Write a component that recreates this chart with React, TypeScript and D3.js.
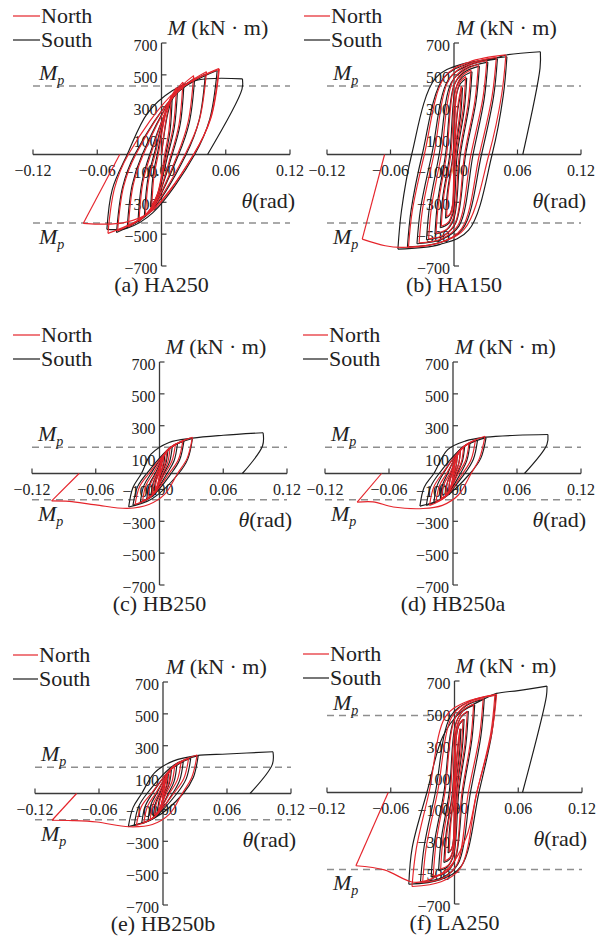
import React from 'react';
import * as d3 from 'd3';

type Pt = [number, number];

// ---------- tick values / labels ----------
const xTicks = [-0.12, -0.06, 0, 0.06, 0.12];
const xTickLabels = ['\u22120.12', '\u22120.06', '0.00', '0.06', '0.12'];
const yTicks = [700, 500, 300, 100, -100, -300, -500, -700];
const yTickLabels = ['700', '500', '300', '100', '\u2212100', '\u2212300', '\u2212500', '\u2212700'];
const legendLabels = ['North', 'South'];
const captions = ['(a) HA250', '(b) HA150', '(c) HB250', '(d) HB250a', '(e) HB250b', '(f) LA250'];
const mpValues = [430, 430, 165, 165, 165, 483];

// ---------- (a) HA250 ----------
const haSouth: Pt[] = [
  [0, 0], [0.005, 230], [0.010, 360],
  [0.008, 151], [0.004, 0], [-0.0034, -248], [-0.010, -330],
  [-0.008, -139], [-0.004, 0], [0.0061, 308], [0.015, 410],
  [0.012, 172], [0.006, 0], [-0.0057, -293], [-0.016, -390],
  [-0.013, -164], [-0.007, 0], [0.0078, 334], [0.021, 445],
  [0.0174, 187], [0.010, 0], [-0.007, -319], [-0.022, -425],
  [-0.0184, -179], [-0.011, 0], [0.0113, 360], [0.031, 480],
  [0.026, 202], [0.016, 0], [-0.0094, -345], [-0.032, -460],
  [-0.0274, -193], [-0.018, 0], [0.0133, 379], [0.041, 505],
  [0.035, 212], [0.023, 0], [-0.0115, -368], [-0.042, -490],
  [-0.0364, -206], [-0.025, 0], [0.0158, 395], [0.052, 527],
  [0.045, 221], [0.031, 0], [-0.008, -365], [-0.032, -462], [-0.051, -470],
  [-0.046, -220], [-0.032, 0], [-0.013, 260], [0.010, 400], [0.034, 468], [0.0756, 475],
  [0.0752, 410], [0.043, 0],
];
const haNorth: Pt[] = [
  [0, 0], [0.0045, 230], [0.009, 370],
  [0.007, 155], [0.003, 0], [-0.0034, -240], [-0.009, -320],
  [-0.007, -134], [-0.003, 0], [0.006, 315], [0.014, 420],
  [0.011, 176], [0.005, 0], [-0.0056, -285], [-0.015, -380],
  [-0.012, -160], [-0.006, 0], [0.0078, 341], [0.020, 455],
  [0.0164, 191], [0.009, 0], [-0.0069, -315], [-0.021, -420],
  [-0.0174, -176], [-0.010, 0], [0.0112, 371], [0.030, 495],
  [0.025, 208], [0.015, 0], [-0.0094, -341], [-0.031, -455],
  [-0.0264, -191], [-0.017, 0], [0.0143, 390], [0.042, 520],
  [0.0354, 218], [0.022, 0], [-0.0114, -360], [-0.041, -480],
  [-0.0354, -202], [-0.024, 0], [0.0171, 405], [0.0535, 540],
  [0.0457, 227], [0.030, 0], [-0.0124, -371], [-0.050, -495],
  [-0.0437, -208], [-0.031, 0], [0.014, 401], [0.054, 535],
  [0.046, 225], [0.030, 0], [-0.008, -350], [-0.035, -428], [-0.073, -432],
  [-0.039, 0],
];

// ---------- (b) HA150 ----------
const hbSouth150: Pt[] = [
  [0, 0], [0.004, 300], [0.008, 420],
  [0.0063, 252], [0.001, 0], [-0.0013, -320], [-0.004, -380], [-0.008, -400],
  [-0.0063, -240], [-0.001, 0], [0.0023, 374], [0.0062, 446], [0.012, 480],
  [0.0098, 288], [0.003, 0], [-0.001, -368], [-0.0058, -437], [-0.013, -460],
  [-0.0108, -276], [-0.004, 0], [0.0013, 406], [0.0076, 484], [0.017, 520],
  [0.0143, 312], [0.006, 0], [0.0, -400], [-0.0072, -475], [-0.018, -500],
  [-0.0155, -300], [-0.008, 0], [0.0, 433], [0.0096, 516], [0.024, 555],
  [0.0208, 333], [0.011, 0], [0.0018, -428], [-0.0094, -508], [-0.026, -535],
  [-0.023, -321], [-0.014, 0], [-0.0025, 452], [0.0113, 539], [0.032, 580],
  [0.0285, 348], [0.018, 0], [0.0048, -448], [-0.0112, -532], [-0.035, -560],
  [-0.0315, -336], [-0.021, 0], [-0.0055, 468], [0.0131, 558], [0.041, 600],
  [0.0373, 360], [0.026, 0], [0.0085, -464], [-0.0125, -551], [-0.044, -580],
  [-0.0405, -348], [-0.030, 0], [-0.010, 479], [0.014, 571], [0.050, 614],
  [0.0465, 368], [0.036, 0], [0.0138, -475], [-0.013, -564], [-0.053, -594],
  [-0.0497, -356], [-0.040, 0], [-0.0175, 479], [0.0095, 571], [0.037, 600], [0.0496, 625], [0.0816, 645],
  [0.0813, 542], [0.065, 0],
];
const hbNorth150: Pt[] = [
  [0, 0], [0.0035, 300], [0.007, 430],
  [0.0054, 258], [0.0005, 0], [-0.0014, -312], [-0.0036, -371], [-0.007, -390],
  [-0.0054, -234], [-0.0005, 0], [0.0024, 382], [0.0058, 456], [0.011, 490],
  [0.0088, 294], [0.002, 0], [-0.0015, -360], [-0.0057, -428], [-0.012, -450],
  [-0.0098, -270], [-0.003, 0], [0.0018, 413], [0.0075, 493], [0.016, 530],
  [0.0133, 318], [0.005, 0], [-0.0005, -396], [-0.0071, -470], [-0.017, -495],
  [-0.0145, -297], [-0.007, 0], [0.0005, 441], [0.0095, 525], [0.023, 565],
  [0.0198, 339], [0.010, 0], [0.0015, -424], [-0.0087, -504], [-0.024, -530],
  [-0.021, -318], [-0.012, 0], [-0.0013, 460], [0.0117, 549], [0.031, 590],
  [0.0273, 354], [0.016, 0], [0.0038, -444], [-0.011, -527], [-0.033, -555],
  [-0.0295, -333], [-0.019, 0], [-0.0043, 476], [0.0135, 567], [0.040, 610],
  [0.036, 366], [0.024, 0], [0.0073, -465], [-0.0129, -552], [-0.043, -581],
  [-0.0393, -349], [-0.028, 0], [-0.0088, 488], [0.0144, 581], [0.049, 625],
  [0.045, 375], [0.033, 0], [0.0095, -470], [-0.02, -565], [-0.05, -583], [-0.065, -573], [-0.0867, -531],
  [-0.0656, 0],
];

// ---------- (c) HB250 ----------
const hcSouth: Pt[] = [
  [0, 0], [0.0025, 75], [0.005, 120],
  [0.0037, 50], [0.001, 0], [-0.0022, -83], [-0.005, -110],
  [-0.0037, -46], [-0.001, 0], [0.0038, 113], [0.008, 150],
  [0.006, 63], [0.002, 0], [-0.0033, -105], [-0.008, -140],
  [-0.006, -59], [-0.002, 0], [0.0054, 128], [0.012, 170],
  [0.0094, 71], [0.004, 0], [-0.0045, -120], [-0.012, -160],
  [-0.0094, -67], [-0.004, 0], [0.0071, 143], [0.017, 190],
  [0.0137, 80], [0.007, 0], [-0.0063, -135], [-0.018, -180],
  [-0.0147, -76], [-0.008, 0], [0.0084, 154], [0.023, 205],
  [0.019, 86], [0.011, 0], [-0.0081, -150], [-0.025, -200],
  [-0.0207, -84], [-0.012, 0], [0.0108, 165], [0.031, 220],
  [0.0267, 92], [0.018, 0], [-0.0069, -158], [-0.029, -210],
  [-0.025, -88], [-0.017, 0], [-0.008, 121], [0.009, 195], [0.031, 222], [0.06, 240], [0.0975, 256],
  [0.097, 174], [0.078, 0],
];
const hcNorth: Pt[] = [
  [0, 0], [0.002, 70], [0.004, 110],
  [0.0028, 46], [0.0005, 0], [-0.0019, -75], [-0.004, -100],
  [-0.0028, -42], [-0.0005, 0], [0.0035, 105], [0.007, 140],
  [0.005, 59], [0.001, 0], [-0.0032, -98], [-0.007, -130],
  [-0.0052, -55], [-0.0015, 0], [0.0046, 124], [0.010, 165],
  [0.0077, 69], [0.003, 0], [-0.0044, -116], [-0.011, -155],
  [-0.0084, -65], [-0.003, 0], [0.0065, 139], [0.015, 185],
  [0.0117, 78], [0.005, 0], [-0.0061, -131], [-0.016, -175],
  [-0.0127, -74], [-0.006, 0], [0.0088, 154], [0.022, 205],
  [0.0177, 86], [0.009, 0], [-0.008, -146], [-0.023, -195],
  [-0.0187, -82], [-0.010, 0], [0.0117, 170], [0.031, 227],
  [0.026, 95], [0.017, 0], [0.005, -130], [-0.010, -195], [-0.030, -219], [-0.060, -197], [-0.085, -175], [-0.1015, -172],
  [-0.0757, 0],
];

// ---------- (d) HB250a ----------
const hdSouth: Pt[] = [
  [0, 0], [0.002, 75], [0.004, 120],
  [0.003, 50], [0.001, 0], [-0.0017, -83], [-0.004, -110],
  [-0.003, -46], [-0.001, 0], [0.0032, 113], [0.007, 150],
  [0.0054, 63], [0.002, 0], [-0.0028, -105], [-0.007, -140],
  [-0.0054, -59], [-0.002, 0], [0.0049, 131], [0.011, 175],
  [0.0087, 74], [0.004, 0], [-0.0045, -124], [-0.012, -165],
  [-0.0097, -69], [-0.005, 0], [0.0061, 146], [0.016, 195],
  [0.013, 82], [0.007, 0], [-0.0063, -139], [-0.018, -185],
  [-0.015, -78], [-0.009, 0], [0.008, 158], [0.023, 210],
  [0.019, 88], [0.011, 0], [-0.0081, -150], [-0.025, -200],
  [-0.021, -84], [-0.013, 0], [0.0103, 169], [0.031, 225],
  [0.026, 95], [0.016, 0], [-0.0089, -154], [-0.031, -205],
  [-0.027, -86], [-0.018, 0], [-0.005, 150], [0.012, 205], [0.031, 228], [0.06, 240], [0.089, 245],
  [0.088, 181], [0.067, 0],
];
const hdNorth: Pt[] = [
  [0, 0], [0.002, 70], [0.004, 110],
  [0.0028, 46], [0.0005, 0], [-0.0019, -75], [-0.004, -100],
  [-0.0028, -42], [-0.0005, 0], [0.0035, 105], [0.007, 140],
  [0.0052, 59], [0.0015, 0], [-0.003, -101], [-0.007, -135],
  [-0.0052, -57], [-0.0015, 0], [0.0046, 124], [0.010, 165],
  [0.0077, 69], [0.003, 0], [-0.0044, -120], [-0.011, -160],
  [-0.0084, -67], [-0.003, 0], [0.0065, 143], [0.015, 190],
  [0.0117, 80], [0.005, 0], [-0.0061, -135], [-0.016, -180],
  [-0.0127, -76], [-0.006, 0], [0.0083, 158], [0.021, 210],
  [0.017, 88], [0.009, 0], [-0.0074, -150], [-0.022, -200],
  [-0.018, -84], [-0.010, 0], [0.0112, 176], [0.030, 234],
  [0.025, 98], [0.017, 0], [0.005, -135], [-0.010, -200], [-0.028, -220], [-0.056, -210], [-0.075, -178], [-0.0898, -180],
  [-0.067, 0],
];

// ---------- (e) HB250b ----------
const heSouth: Pt[] = [
  [0, 0], [0.0025, 80], [0.005, 125],
  [0.0037, 52], [0.001, 0], [-0.0022, -83], [-0.005, -110],
  [-0.0037, -46], [-0.001, 0], [0.0038, 116], [0.008, 155],
  [0.006, 65], [0.002, 0], [-0.0038, -109], [-0.009, -145],
  [-0.007, -61], [-0.003, 0], [0.0055, 135], [0.013, 180],
  [0.0104, 76], [0.005, 0], [-0.0051, -128], [-0.014, -170],
  [-0.0114, -71], [-0.006, 0], [0.0073, 150], [0.019, 200],
  [0.0157, 84], [0.009, 0], [-0.0064, -143], [-0.020, -190],
  [-0.0167, -80], [-0.010, 0], [0.0091, 165], [0.026, 220],
  [0.0217, 92], [0.013, 0], [-0.0082, -150], [-0.027, -200],
  [-0.023, -84], [-0.015, 0], [0.0104, 179], [0.033, 238],
  [0.0284, 100], [0.019, 0], [-0.0083, -156], [-0.0325, -208],
  [-0.028, -87], [-0.020, 0], [-0.008, 130], [0.010, 205], [0.0316, 238], [0.06, 248], [0.1031, 262],
  [0.1025, 183], [0.0816, 0],
];
const heNorth: Pt[] = [
  [0, 0], [0.002, 75], [0.004, 115],
  [0.0028, 48], [0.0005, 0], [-0.0019, -79], [-0.004, -105],
  [-0.0028, -44], [-0.0005, 0], [0.0035, 109], [0.007, 145],
  [0.0052, 61], [0.0015, 0], [-0.0035, -101], [-0.008, -135],
  [-0.006, -57], [-0.002, 0], [0.0049, 131], [0.011, 175],
  [0.0084, 74], [0.003, 0], [-0.005, -124], [-0.012, -165],
  [-0.0094, -69], [-0.004, 0], [0.0071, 150], [0.017, 200],
  [0.0134, 84], [0.006, 0], [-0.0067, -139], [-0.018, -185],
  [-0.0144, -78], [-0.007, 0], [0.0094, 165], [0.024, 220],
  [0.0194, 92], [0.010, 0], [-0.0086, -150], [-0.025, -200],
  [-0.0204, -84], [-0.011, 0], [0.0118, 182], [0.032, 242],
  [0.027, 102], [0.018, 0], [0.006, -130], [-0.010, -195], [-0.032, -209], [-0.062, -179], [-0.085, -170], [-0.104, -168],
  [-0.081, 0],
];

// ---------- (f) LA250 ----------
const hfSouth: Pt[] = [
  [0, 0], [0.003, 270], [0.006, 400],
  [0.0046, 240], [0.0005, 0], [-0.0011, -304], [-0.0031, -361], [-0.006, -380],
  [-0.0046, -228], [-0.0005, 0], [0.0019, 359], [0.0047, 428], [0.009, 460],
  [0.0073, 276], [0.002, 0], [-0.001, -352], [-0.0046, -418], [-0.010, -440],
  [-0.008, -264], [-0.002, 0], [0.0018, 398], [0.0063, 474], [0.013, 510],
  [0.0108, 306], [0.004, 0], [-0.0008, -392], [-0.0065, -466], [-0.015, -490],
  [-0.0125, -294], [-0.005, 0], [0.001, 429], [0.0082, 512], [0.019, 550],
  [0.0163, 330], [0.008, 0], [0.0005, -424], [-0.0085, -504], [-0.022, -530],
  [-0.019, -318], [-0.010, 0], [-0.0005, 457], [0.0109, 545], [0.028, 586],
  [0.0248, 352], [0.015, 0], [0.0033, -448], [-0.0109, -532], [-0.032, -560],
  [-0.0285, -336], [-0.018, 0], [-0.0038, 477], [0.0134, 569], [0.039, 612],
  [0.035, 367], [0.023, 0], [0.0065, -461], [-0.0133, -547], [-0.043, -576],
  [-0.0398, -346], [-0.026, 0], [-0.011, 352], [0.005, 500], [0.027, 584], [0.0396, 622], [0.06, 640], [0.087, 668],
  [0.0865, 605], [0.064, 0],
];
const hfNorth: Pt[] = [
  [0, 0], [0.0025, 260], [0.005, 400],
  [0.0038, 240], [0.0003, 0], [-0.001, -296], [-0.0026, -352], [-0.005, -370],
  [-0.0038, -222], [-0.0003, 0], [0.0018, 359], [0.0043, 428], [0.008, 460],
  [0.0064, 276], [0.0015, 0], [-0.0011, -344], [-0.0043, -409], [-0.009, -430],
  [-0.0071, -258], [-0.0015, 0], [0.0019, 398], [0.0059, 474], [0.012, 510],
  [0.0098, 306], [0.003, 0], [-0.001, -384], [-0.0058, -456], [-0.013, -480],
  [-0.0108, -288], [-0.004, 0], [0.0015, 433], [0.0081, 516], [0.018, 555],
  [0.0153, 333], [0.007, 0], [0.0003, -420], [-0.0079, -499], [-0.020, -525],
  [-0.0173, -315], [-0.009, 0], [0.0, 460], [0.0108, 549], [0.027, 590],
  [0.0235, 354], [0.013, 0], [0.0023, -452], [-0.0107, -537], [-0.030, -565],
  [-0.0265, -339], [-0.016, 0], [-0.0021, 480], [0.0146, 573], [0.0396, 616],
  [0.035, 370], [0.021, 0], [0.0058, -472], [-0.0126, -560], [-0.040, -590],
  [-0.036, -354], [-0.024, 0], [-0.0085, 476], [0.0101, 567], [0.038, 610],
  [0.034, 366], [0.021, 0], [0.011, -283], [-0.005, -471], [-0.027, -555], [-0.040, -562], [-0.066, -486], [-0.0928, -460],
  [-0.0624, 0],
];

const northSeries = [haNorth, hbNorth150, hcNorth, hdNorth, heNorth, hfNorth];
const southSeries = [haSouth, hbSouth150, hcSouth, hdSouth, heSouth, hfSouth];

// ---------- layout (pixels) ----------
const layout = [
  { x0: 33, x1: 290, yT: 43, yB: 266, lx0: 13, lx1: 40, tdx: 6 },
  { x0: 327, x1: 581, yT: 43, yB: 266, lx0: 304, lx1: 330, tdx: 2 },
  { x0: 32, x1: 287, yT: 362, yB: 585, lx0: 13, lx1: 40, tdx: 6 },
  { x0: 325, x1: 581, yT: 362, yB: 585, lx0: 303, lx1: 328, tdx: 2 },
  { x0: 35, x1: 291, yT: 682, yB: 905, lx0: 13, lx1: 38, tdx: 3 },
  { x0: 327, x1: 582, yT: 681, yB: 904, lx0: 303, lx1: 329, tdx: 1 },
];

const RED = '#e5242b';
const BLACK = '#1c1c1c';
const AXIS = '#3a3a3a';
const FONT = '"Liberation Serif", "Times New Roman", "DejaVu Serif", serif';

function splitBranches(pts: Pt[]): Pt[][] {
  const out: Pt[][] = [];
  let cur: Pt[] = [pts[0]];
  let dir = 0;
  for (let i = 1; i < pts.length; i++) {
    const d = Math.sign(pts[i][0] - pts[i - 1][0]);
    if (dir !== 0 && d !== 0 && d !== dir) {
      out.push(cur);
      cur = [pts[i - 1]];
    }
    if (d !== 0) dir = d;
    cur.push(pts[i]);
  }
  out.push(cur);
  return out;
}

function Panel({ idx }: { idx: number }) {
  const L = layout[idx];
  const x = d3.scaleLinear().domain([-0.12, 0.12]).range([L.x0, L.x1]);
  const y = d3.scaleLinear().domain([-700, 700]).range([L.yB, L.yT]);
  const line = d3
    .line<Pt>()
    .x((d) => x(d[0]))
    .y((d) => y(d[1]))
    .curve(d3.curveCatmullRom.alpha(0.5));
  const x0 = x(0);
  const y0 = y(0);
  const mp = mpValues[idx];
  const drawSeries = (s: Pt[], color: string, key: string) =>
    splitBranches(s).map((b, i) => (
      <path key={key + i} d={line(b) || ''} fill="none" stroke={color} strokeWidth={1.15} strokeLinejoin="round" />
    ));
  return (
    <g>
      {/* Mp dashed lines */}
      {[mp, -mp].map((v, i) => (
        <line key={'mp' + i} x1={L.x0} x2={L.x1} y1={y(v)} y2={y(v)} stroke="#8e8e8e" strokeWidth={1.5} strokeDasharray="7,5" />
      ))}
      {/* x axis */}
      <line x1={L.x0} x2={L.x1} y1={y0} y2={y0} stroke={AXIS} strokeWidth={1.3} />
      {xTicks.map((t, i) => (
        <g key={'xt' + i}>
          <line x1={x(t)} x2={x(t)} y1={y0} y2={y0 - 5} stroke={AXIS} strokeWidth={1.2} />
          <text x={x(t)} y={y0 + 21} textAnchor="middle" fontSize={16} fontFamily={FONT} fill="#222">
            {xTickLabels[i]}
          </text>
        </g>
      ))}
      {/* y axis */}
      <line x1={x0} x2={x0} y1={L.yT} y2={L.yB} stroke={AXIS} strokeWidth={1.3} />
      {yTicks.map((t, i) => (
        <g key={'yt' + i}>
          <line x1={x0} x2={x0 + 5} y1={y(t)} y2={y(t)} stroke={AXIS} strokeWidth={1.2} />
          <text x={x0 - 4} y={y(t) + 8} textAnchor="end" fontSize={16} fontFamily={FONT} fill="#222">
            {yTickLabels[i]}
          </text>
        </g>
      ))}
      {/* curves */}
      {drawSeries(southSeries[idx], BLACK, 's')}
      {drawSeries(northSeries[idx], RED, 'n')}
      {/* Mp labels */}
      <text x={L.x0 + 6} y={y(mp) - 6} fontSize={22} fontFamily={FONT} fill="#222">
        <tspan fontStyle="italic">M</tspan>
        <tspan fontStyle="italic" fontSize={14} dy={5}>p</tspan>
      </text>
      <text x={L.x0 + 6} y={y(-mp) + 21} fontSize={22} fontFamily={FONT} fill="#222">
        <tspan fontStyle="italic">M</tspan>
        <tspan fontStyle="italic" fontSize={14} dy={5}>p</tspan>
      </text>
      {/* axis titles */}
      <text x={x0 + L.tdx} y={L.yT - 8} fontSize={22} fontFamily={FONT} fill="#222">
        <tspan fontStyle="italic">M</tspan>
        <tspan> (kN · m)</tspan>
      </text>
      <text x={L.x1 + 5} y={y0 + 53} textAnchor="end" fontSize={22} fontFamily={FONT} fill="#222">
        <tspan fontStyle="italic">θ</tspan>
        <tspan>(rad)</tspan>
      </text>
      {/* legend */}
      {legendLabels.map((lab, i) => {
        const by = L.yT - 20 + i * 24;
        return (
          <g key={'lg' + i}>
            <line x1={L.lx0} x2={L.lx1} y1={by - 7} y2={by - 7} stroke={i === 0 ? RED : BLACK} strokeWidth={1.2} />
            <text x={L.lx1 + 1} y={by} fontSize={22} fontFamily={FONT} fill="#222">
              {lab}
            </text>
          </g>
        );
      })}
      {/* caption */}
      <text x={x0} y={L.yB + 26} textAnchor="middle" fontSize={22} fontFamily={FONT} fill="#222">
        {captions[idx]}
      </text>
    </g>
  );
}

export default function App() {
  return (
    <svg
      width={606}
      height={939}
      viewBox="0 0 606 939"
      style={{ position: 'absolute', left: 0, top: 0, background: '#fff' }}
    >
      <rect x={0} y={0} width={606} height={939} fill="#fff" />
      {layout.map((_, i) => (
        <Panel key={i} idx={i} />
      ))}
    </svg>
  );
}
